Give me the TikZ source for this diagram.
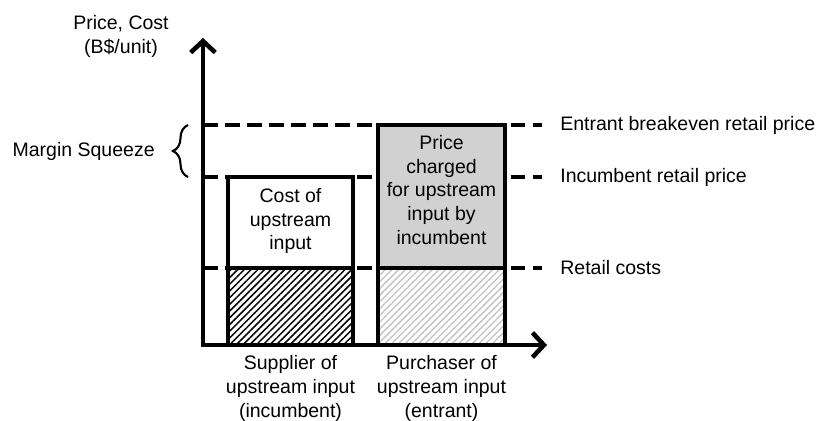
\documentclass[tikz,border=0pt]{standalone}
\usepackage{fontspec}
\setmainfont{Liberation Sans}
\usetikzlibrary{arrows.meta,patterns.meta,decorations.pathreplacing}

\tikzset{
  axis/.style={line width=2.6pt,{Straight Barb[length=6.5pt,width=14pt]}-{Straight Barb[length=6.5pt,width=14pt]}},
  bar/.style={line width=2.5pt},
  level/.style={line width=2.6pt,dash pattern=on 8.5pt off 4pt},
  lbl/.style={font=\fontsize{11.1}{13.5}\selectfont,align=center,inner sep=0pt},
  hatch/.style={pattern={Lines[angle=45,distance=2.7pt,line width=0.85pt]}},
}

\begin{document}
\begin{tikzpicture}
\useasboundingbox (0,0) rectangle (16.4,8.4);

%labels
\node[lbl] (yname) at (2.42,7.67) {Price, Cost\\(B\$/unit)};
\node[lbl,anchor=west] (entrant) at (11.2,5.9) {Entrant breakeven retail price};
\node[lbl,anchor=west] (incumbent) at (11.2,4.86) {Incumbent retail price};
\node[lbl,anchor=west] (retail) at (11.2,3.04) {Retail costs};
\node[lbl,anchor=east] (squeeze) at (3.1,5.37) {Margin Squeeze};

%levels
\draw[level,shorten >=0.36cm] (4.06,5.9) -- (entrant.west);
\draw[level,shorten >=0.36cm] (4.06,4.86) -- (incumbent.west);
\draw[level,shorten >=0.36cm] (4.06,3.04) -- (retail.west);

%supplier
\fill[white] (4.56,3.04) rectangle (7.06,4.86);
\fill[white] (4.56,1.5) rectangle (7.06,3.04);
\fill[hatch,pattern color=black] (4.56,1.5) rectangle (7.06,3.04);
\draw[bar] (4.56,1.5) rectangle (7.06,4.86);
\draw[bar] (4.56,3.04) -- (7.06,3.04);
\node[lbl] (cost) at (5.81,3.98) {Cost of\\upstream\\input};

%purchaser
\fill[black!18] (7.56,3.04) rectangle (10.1,5.9);
\fill[white] (7.56,1.5) rectangle (10.1,3.04);
\fill[hatch,pattern color=black!22] (7.56,1.5) rectangle (10.1,3.04);
\draw[bar] (7.56,1.5) rectangle (10.1,5.9);
\draw[bar] (7.56,3.04) -- (10.1,3.04);
\node[lbl] (charge) at (8.83,4.6) {Price\\charged\\for upstream\\input by\\incumbent};

%axes
\draw[axis] (4.06,7.64) -- (4.06,1.5) -- (10.94,1.5);
\node[lbl,anchor=north] (supplier) at (5.81,1.29) {Supplier of\\upstream input\\(incumbent)};
\node[lbl,anchor=north] (purchaser) at (8.83,1.29) {Purchaser of\\upstream input\\(entrant)};

%brace
\draw[line width=1.2pt,decorate,decoration={brace,amplitude=0.3cm}] (3.76,4.86) -- (3.76,5.9);
\end{tikzpicture}
\end{document}
